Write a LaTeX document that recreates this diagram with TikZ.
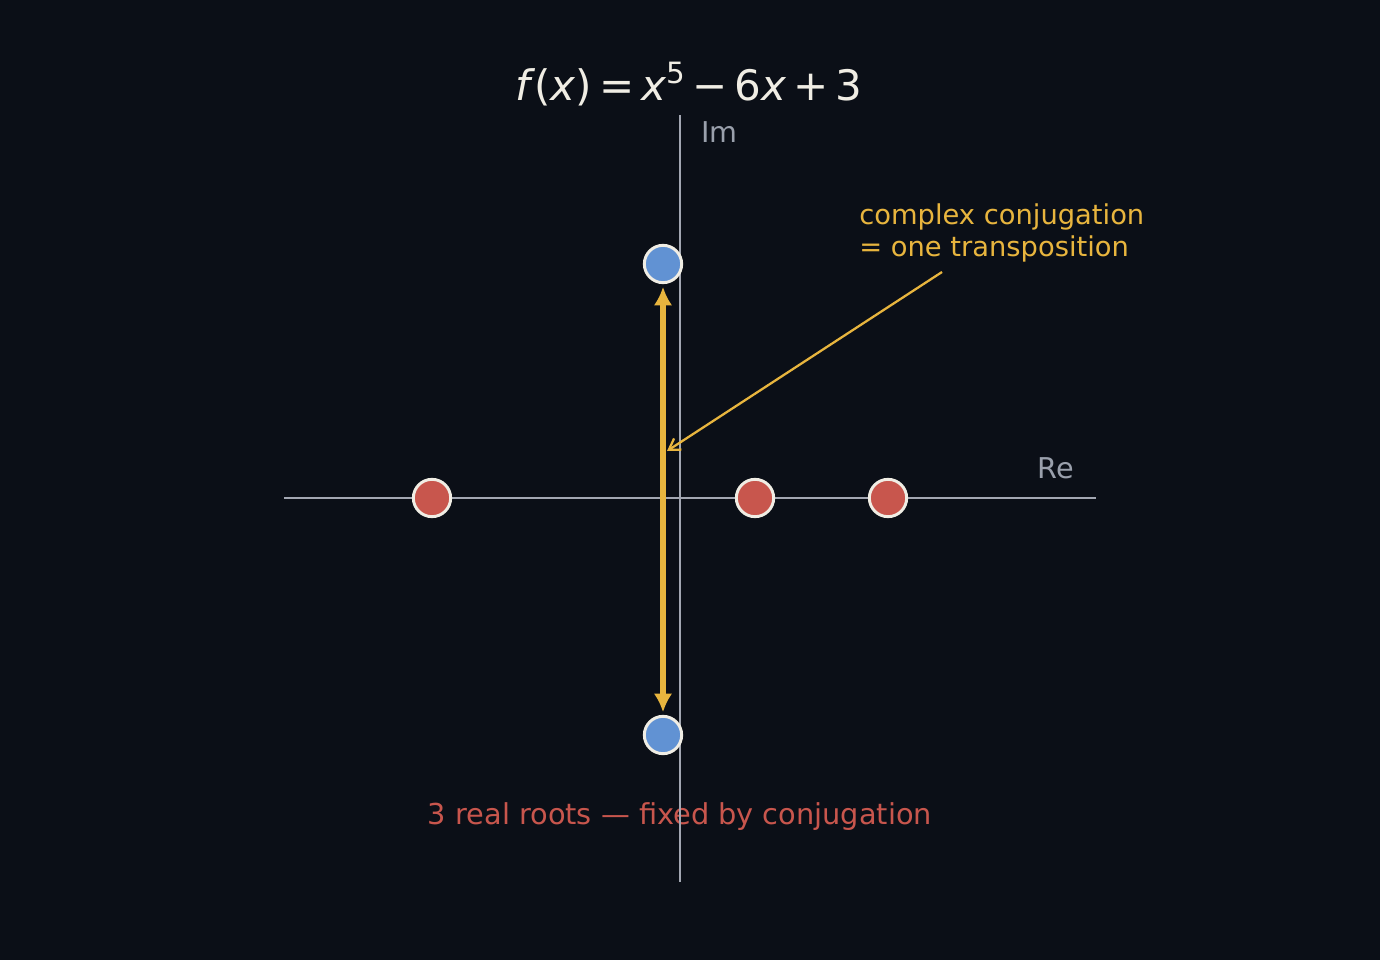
\documentclass[tikz,border=0pt]{standalone}
\usepackage{fontspec}
\setmainfont{DejaVu Sans}
\usetikzlibrary{arrows.meta}
\definecolor{bg}{HTML}{0B0F17}
\definecolor{axisgray}{HTML}{A3A7B2}
\definecolor{labelgray}{HTML}{9AA0AC}
\definecolor{rootred}{HTML}{C8564D}
\definecolor{rootblue}{HTML}{6192D3}
\definecolor{accent}{HTML}{E8B53E}
\definecolor{titlewhite}{HTML}{F0EDE4}
\tikzset{
  axisline/.style={draw=axisgray, line width=1.4pt},
  realroot/.style={circle, fill=rootred, draw=titlewhite, line width=2.2pt, minimum size=28pt, inner sep=0pt},
  cplxroot/.style={circle, fill=rootblue, draw=titlewhite, line width=2.2pt, minimum size=28pt, inner sep=0pt},
  axislabel/.style={text=labelgray, font=\fontsize{21.5}{26}\selectfont, inner sep=0pt},
  conjarrow/.style={draw=accent, line width=3.8pt, {Latex[length=14pt,width=14pt]}-{Latex[length=14pt,width=14pt]}},
  annarrow/.style={draw=accent, line width=1.7pt, -{Straight Barb[length=8pt,width=10pt]}},
}
\begin{document}
\begin{tikzpicture}[x=0.75pt,y=-0.75pt]
\fill[bg] (0,0) rectangle (1380,960);
\useasboundingbox (0,0) rectangle (1380,960);
% bottom caption (drawn under the axis)
\node[text=rootred, font=\fontsize{21.6}{26}\selectfont, inner sep=0pt] (caption) at (680,817) {3 real roots — fixed by conjugation};
% axes
\coordinate (reL) at (284,498);
\coordinate (reR) at (1096,498);
\coordinate (imT) at (680,115);
\coordinate (imB) at (680,882);
\draw[axisline] (reL) -- (reR);
\draw[axisline] (imT) -- (imB);
\node[axislabel, anchor=west] (imlabel) at (701,132) {Im};
\node[axislabel, anchor=east] (relabel) at (1074,468) {Re};
% title
\node[text=titlewhite, font=\fontsize{31.5}{38}\selectfont, inner sep=0pt] (title) at (689,84)
  {\textit{f}\kern-0.04em(\textit{x})\,=\,\textit{x}\raisebox{0.42em}{\fontsize{22}{26}\selectfont 5}\,−\,6\textit{x}\,+\,3};
% roots
\node[realroot] (r1) at (432,498) {};
\node[realroot] (r2) at (755,498) {};
\node[realroot] (r3) at (888,498) {};
\node[cplxroot] (c1) at (663,264) {};
\node[cplxroot] (c2) at (663,735) {};
% conjugation arrow
\draw[conjarrow] ([yshift=-2pt]c1.south) -- ([yshift=2pt]c2.north);
% annotation
\node[text=accent, font=\fontsize{20.5}{24}\selectfont, align=left, anchor=north west, inner sep=0pt] (ann) at (859,203)
  {complex conjugation\\= one transposition};
\coordinate (annstart) at (942,272);
\coordinate (annend) at (667,451);
\draw[annarrow] (annstart) -- (annend);
\end{tikzpicture}
\end{document}
